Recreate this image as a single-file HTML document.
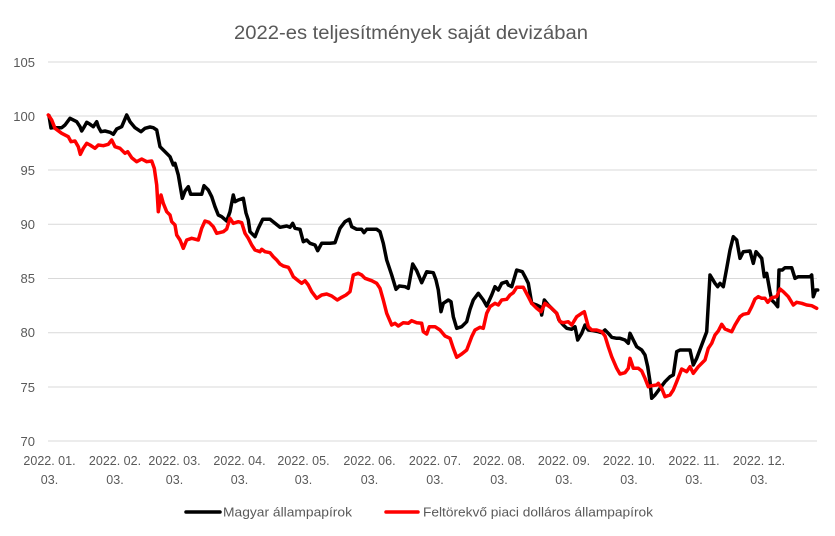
<!DOCTYPE html>
<html>
<head>
<meta charset="utf-8">
<style>
html,body{margin:0;padding:0;background:#fff;}
svg{display:block;}
text{font-family:"Liberation Sans",Arial,sans-serif;fill:#595959;}
</style>
</head>
<body>
<svg width="835" height="536" viewBox="0 0 835 536" xmlns="http://www.w3.org/2000/svg">
<rect width="835" height="536" fill="#fff"/>
<text x="234" y="39" font-size="19" textLength="354" lengthAdjust="spacingAndGlyphs">2022-es teljesítmények saját devizában</text>
<g stroke="#d9d9d9" stroke-width="1">
<line x1="48" y1="62" x2="817" y2="62"/>
<line x1="48" y1="116" x2="817" y2="116"/>
<line x1="48" y1="170" x2="817" y2="170"/>
<line x1="48" y1="224.3" x2="817" y2="224.3"/>
<line x1="48" y1="278.5" x2="817" y2="278.5"/>
<line x1="48" y1="332.7" x2="817" y2="332.7"/>
<line x1="48" y1="387" x2="817" y2="387"/>
<line x1="48" y1="441" x2="817" y2="441"/>
</g>
<g font-size="13" text-anchor="end">
<text x="35" y="67">105</text>
<text x="35" y="121">100</text>
<text x="35" y="175">95</text>
<text x="35" y="229">90</text>
<text x="35" y="283">85</text>
<text x="35" y="337">80</text>
<text x="35" y="392">75</text>
<text x="35" y="446">70</text>
</g>
<g font-size="12.5" text-anchor="middle">
<text x="49.5" y="465">2022. 01.</text><text x="49.5" y="484">03.</text>
<text x="115" y="465">2022. 02.</text><text x="115" y="484">03.</text>
<text x="174.5" y="465">2022. 03.</text><text x="174.5" y="484">03.</text>
<text x="239.5" y="465">2022. 04.</text><text x="239.5" y="484">03.</text>
<text x="303.5" y="465">2022. 05.</text><text x="303.5" y="484">03.</text>
<text x="369.5" y="465">2022. 06.</text><text x="369.5" y="484">03.</text>
<text x="435" y="465">2022. 07.</text><text x="435" y="484">03.</text>
<text x="499" y="465">2022. 08.</text><text x="499" y="484">03.</text>
<text x="564" y="465">2022. 09.</text><text x="564" y="484">03.</text>
<text x="629" y="465">2022. 10.</text><text x="629" y="484">03.</text>
<text x="694" y="465">2022. 11.</text><text x="694" y="484">03.</text>
<text x="759" y="465">2022. 12.</text><text x="759" y="484">03.</text>
</g>
<g fill="none" stroke-width="3.5" stroke-linejoin="round" stroke-linecap="round">
<polyline stroke="#000" points="49,115.7 51,128 51.7,127.7 61.7,127.7 65,125 70,118.3 76.7,121.7 80,126.7 81.7,131 84.3,126.7 86.7,122.3 90,124.3 93.3,126.7 96.7,121.7 98.3,126.7 101,131.7 105,131 110,132.3 113.3,134.3 116.7,129 121.7,126.7 126.7,115 130,121.7 135,127.7 141,131.7 145,128.3 150,127 153.3,127.7 156.7,130 160,146.7 165,151.7 170,156.7 173.3,165 175,163.3 178.3,175 182.3,198.3 185,191 188.3,186.7 190.7,194.3 201.7,194.3 204,185.7 208.3,190 211.7,196.7 215,206.7 218.3,215 221.7,216.7 226.7,221 230,211.7 233.3,195 235,201.7 238.3,200 243.3,198.3 246,213 248.3,220 250,231.7 255,236.7 258.3,228.3 262.7,219.3 270,219.3 275,223.3 280,227.3 286.7,226 290,227.3 292.7,223.3 295,228.3 300,229.3 303.3,241.7 306.7,240 310,243.3 315,245 317.7,250.7 321.7,243.3 330,243.3 335,242.7 340,228.3 345,221.7 349.3,219.3 351.7,226.7 356.7,229.3 361.7,229.3 364,232.7 366.7,229.3 376.7,229.3 380,231.7 383.3,243.3 386.7,260 391.7,275 396,289.3 399.3,286 405,286.7 408.3,288.3 412.7,264 416.7,270.7 421.7,282.7 426.7,271.7 433.3,272.7 436,280 438.3,290 441,311.7 443.3,303.3 448.3,300 451,301.7 453.3,316.7 456.7,328.3 461.7,326.7 466.7,321.7 470,309.3 473.3,300 478.3,293.3 483.3,300 486.7,306 491.7,295 495,286.7 498.3,290 501.7,283.3 506.7,281.7 508.3,285 511.7,286.7 516.7,270 522.3,271.7 525,276.7 528.3,283.3 531.7,303.3 536.7,305 540,306.7 541.7,315 544.3,300 548.3,305 553.3,310 556.7,313.3 559,320 563.3,325 566.7,328.3 571.7,329.3 575,326.7 577.7,340 581.7,333.3 585,325 588.3,330 593.3,330.7 598.3,331.7 601.7,332.7 605,330 608.3,333.3 611.7,337.3 616.7,338.3 620,338.3 625,340 628.3,343.3 630,333.3 633.3,340 636.7,346.7 641.7,350 645,355 647.7,366.7 650,381.7 651.7,398.3 655,395 660,388.3 665,381.7 670,376.7 673.3,375 676.7,351.7 680,350 690,350 693.3,365 696.7,358.3 701.7,345 706.7,331.7 710,275 715,283.3 717.7,286.7 720,283.3 723.3,286.7 726.7,268.3 730,250 733.3,236.7 736.7,240 740,258.3 743.3,251.7 750,251 753.3,263.3 756,251.7 761.7,258.3 764.3,276.7 766.7,273.3 770,291.7 771.7,300 775,303.3 777.7,306.7 779,270 782.3,270 785,267.7 791.7,267.7 795,278.3 798.3,276.7 810,276.7 811.7,275 813.3,296.7 815.7,290 817.7,290"/>
<polyline stroke="#ff0000" points="48.3,115 51.7,120 55,128.3 61.7,133.3 68.3,136.7 71,141.7 75,141 78.3,146.7 80.3,154.3 83.3,148.3 86.7,143.3 90,145 95,148.3 98.3,145 103.3,145.7 108.3,144.3 111.7,140 115,146.7 120,148.3 125,153.3 127.7,151.7 131.7,157.7 136.7,161.7 141.7,159 146.7,161.7 151.7,161 154.3,168.3 156.7,185 158.3,211.7 161,195 163.3,203.3 166.7,211.7 170,215 171.7,221.7 175,225 176.7,235 180,240 183.3,248.3 186.7,240 191.7,238.3 198.3,240 201.7,228.3 205,221 209,222.3 213.3,226.7 216.7,233.3 223.3,231.7 226.7,229 230,218.3 233.3,223.3 238.3,221.7 241.7,222.7 245,233.3 248.3,238.3 251.7,245 255,250 260,251.7 261.7,249.3 265,251.7 270,252.7 273.3,256.7 276.7,260 280,264 283.3,266 288.3,267.3 290,270 293.3,276.7 298.3,280.7 301.7,283.3 305,280.7 308.3,285 311.7,291.7 316.7,298.3 321.7,295 326.7,294 331.7,296 337.3,300 341.7,297.3 346,295 350,291.7 353.3,275 358.3,273.3 361.7,275 365,278.3 371.7,280.7 376.7,283.3 380,288.3 383.3,300 386.7,313.3 391.7,325 395,323.3 398.3,326 403.3,322.7 408.3,323.3 411.7,320.7 416.7,322.7 421.7,323.3 423.3,331.7 426.7,334 429.3,326.7 435,326.7 440,330 445,336 450,338.3 453.3,348.3 456.7,357.3 461.7,354 466.7,350 471.7,336.7 475,330 480,327.3 483.3,328.3 486.7,313.3 490,306.7 495,303.3 498.3,305 501.7,300 506.7,299.3 510,295 513.3,292.7 516.7,287.3 523.3,287.3 528.3,296.7 531.7,303.3 536.7,308.3 541,311.7 545,303.3 551.7,308.3 556.7,313.3 560,321.7 563.3,322.7 568.3,321.7 571.7,325 576.7,316.7 581.7,313.3 584.3,311.7 588.3,326.7 591.7,330 596.7,330 601.7,331.7 605,336 608.3,346.7 611.7,356.7 616.7,368.3 620,374 625,372.7 628.3,368.3 630,358.3 631.7,363.3 633.3,368.3 638.3,368.3 641.7,371 645,378.3 648.3,386.7 651.7,385.7 656.7,385 658.3,383.3 661.7,388.3 665,396.7 670,395 673.3,390 676.7,381.7 681.7,369 686.7,371.7 690,366.7 693.3,373.3 698.3,366.7 705,360 708.3,348.3 711.7,343.3 715,335 718.3,331 721.7,324.3 725,329 731.7,331.7 735,325 740,316.7 743.3,314.3 748.3,313.3 751.7,306.7 755,299 758.3,296.7 761.7,298.3 765,298.3 767.7,302.3 771.7,297.7 776.7,296.7 780,289 783.3,291.7 788.3,296.7 793.3,305 796.7,302.3 801.7,303.3 806.7,305 811.7,305.7 816.7,308.3"/>
</g>
<line x1="186" y1="512" x2="220" y2="512" stroke="#000" stroke-width="3.5" stroke-linecap="round"/>
<text x="223" y="516.5" font-size="13" textLength="129" lengthAdjust="spacingAndGlyphs">Magyar állampapírok</text>
<line x1="386" y1="512" x2="418" y2="512" stroke="#ff0000" stroke-width="3.5" stroke-linecap="round"/>
<text x="423" y="516.5" font-size="13" textLength="230" lengthAdjust="spacingAndGlyphs">Feltörekvő piaci dolláros állampapírok</text>
</svg>
</body>
</html>
